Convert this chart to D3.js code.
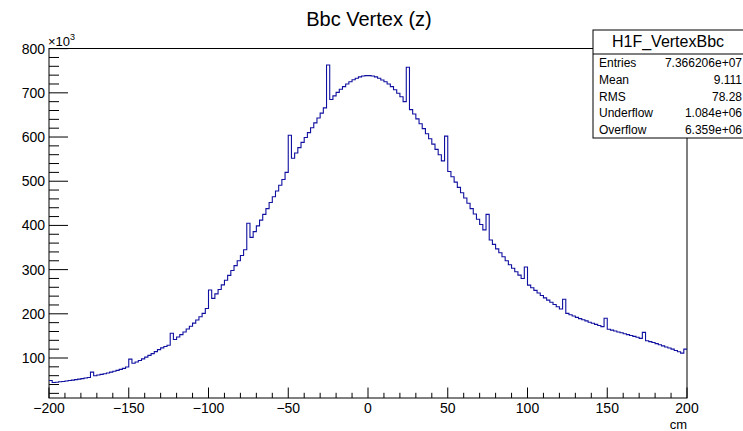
<!DOCTYPE html>
<html>
<head>
<meta charset="utf-8">
<script src="https://cdn.jsdelivr.net/npm/d3@7/dist/d3.min.js"></script>
<style>
  html, body { margin: 0; padding: 0; background: #fff; }
  svg { display: block; font-family: "Liberation Sans", Arial, Helvetica, sans-serif; }
</style>
</head>
<body>
<svg id="chart" width="743" height="431"></svg>
<script>
// ---- data (counts in thousands, 200 bins of 2 cm from -200 to 200) ----
const binLow = -200;
const binWidth = 2;
const counts = [
  49, 44.5, 45.3, 46.2, 47.0, 48.0, 49.0, 50.0, 51.1, 52.2,
  53.4, 54.6, 56, 68, 60, 61.5, 63, 64.5, 66.2, 68,
  70, 72, 74.2, 76.5, 79.5, 97.5, 88, 91, 94.5, 98,
  102, 106, 110, 114.5, 119, 123, 126, 129, 156, 142,
  147.5, 153, 159, 165.5, 172, 179, 186, 193.5, 201, 212,
  254, 235, 245, 255, 265.5, 276, 287, 298, 309, 320,
  332, 345, 405, 373, 386, 399, 412, 425, 438, 452,
  465, 478, 491, 504, 520, 604, 552, 564, 576, 588,
  599, 610, 621, 632, 643, 654, 666, 763, 685, 693,
  701, 708, 714, 720, 725, 729.5, 733, 736, 738, 739,
  739, 738, 736, 733, 729, 725, 720, 714, 707, 699,
  691, 680, 758, 662, 652, 641, 630, 619, 607.5, 596,
  584, 572, 560, 546, 602, 522, 510, 498, 486, 474,
  462, 450, 438, 426, 414, 402, 390, 425, 367, 357,
  347, 338, 329, 320, 311, 303, 295, 287.5, 280, 306,
  265, 259, 253, 247, 241.5, 236, 231, 226, 221, 216,
  211, 233, 201, 198, 195, 192, 189, 186.5, 184, 181,
  178.5, 176, 173.5, 171, 190, 165, 163, 161, 159, 157,
  155, 153, 151, 149, 147, 144.5, 158, 139, 137, 135,
  132.5, 130, 127.5, 125, 122.5, 120, 117, 114, 111, 120
];
const xTicks = [-200, -150, -100, -50, 0, 50, 100, 150, 200];
const yTicks = [100, 200, 300, 400, 500, 600, 700, 800];
const title = "Bbc Vertex (z)";
const xTitle = "cm";
const statsTitle = "H1F_VertexBbc";
const statsLabels = ["Entries", "Mean", "RMS", "Underflow", "Overflow"];
const statsValues = ["7.366206e+07", "9.111", "78.28", "1.084e+06", "6.359e+06"];

// ---- layout ----
const svg = d3.select("#chart");
const L = 49, R = 687, T = 48.5, B = 398;
const x = d3.scaleLinear().domain([-200, 200]).range([L, R]);
const y = d3.scaleLinear().domain([9.5, 800.3]).range([B, T]);

// frame
svg.append("rect").attr("x", L).attr("y", T).attr("width", R - L).attr("height", B - T)
  .attr("fill", "none").attr("stroke", "#000").attr("stroke-width", 1);

// histogram step line
const pts = counts.map((c, i) => [binLow + i * binWidth, c]);
pts.push([binLow + counts.length * binWidth, counts[counts.length - 1]]);
const line = d3.line().x(d => x(d[0])).y(d => y(d[1])).curve(d3.curveStepAfter);
svg.append("path").attr("d", line(pts)).attr("fill", "none")
  .attr("stroke", "#1010a0").attr("stroke-width", 1.1);

// x axis ticks (inside, pointing up)
const gx = svg.append("g");
const xMinor = d3.range(-200, 201, 10);
gx.selectAll("line.minor").data(xMinor).enter().append("line")
  .attr("x1", d => x(d)).attr("x2", d => x(d))
  .attr("y1", B).attr("y2", d => B - (d % 50 === 0 ? 10.5 : 5.2))
  .attr("stroke", "#000").attr("stroke-width", 1);
gx.selectAll("text").data(xTicks).enter().append("text")
  .attr("x", d => x(d)).attr("y", 413).attr("text-anchor", "middle")
  .attr("font-size", 14).text(d => d3.format("")(d));
svg.append("text").attr("x", R).attr("y", 429).attr("text-anchor", "end")
  .attr("font-size", 13).text(xTitle);

// y axis ticks (inside, pointing right)
const gy = svg.append("g");
const yMinor = d3.range(20, 801, 20);
gy.selectAll("line").data(yMinor).enter().append("line")
  .attr("x1", L).attr("x2", d => L + (d % 100 === 0 ? 19 : 10))
  .attr("y1", d => y(d)).attr("y2", d => y(d))
  .attr("stroke", "#000").attr("stroke-width", 1);
gy.selectAll("text").data(yTicks).enter().append("text")
  .attr("x", 45).attr("y", d => y(d) + 5).attr("text-anchor", "end")
  .attr("font-size", 14).text(d => d);
const mult = svg.append("text").attr("x", 48).attr("y", 46).attr("font-size", 13);
mult.append("tspan").text("\u00d710");
mult.append("tspan").attr("dy", -6).attr("font-size", 9).text("3");

// title
svg.append("text").attr("x", 369).attr("y", 26).attr("text-anchor", "middle")
  .attr("font-size", 20).text(title);

// stats box
const sbX = 593, sbY = 30, sbW = 160, sbH = 108, sbTitleH = 24;
svg.append("rect").attr("x", sbX).attr("y", sbY).attr("width", sbW).attr("height", sbH)
  .attr("fill", "#fff").attr("stroke", "#000").attr("stroke-width", 1);
svg.append("line").attr("x1", sbX).attr("x2", sbX + sbW)
  .attr("y1", sbY + sbTitleH).attr("y2", sbY + sbTitleH).attr("stroke", "#000");
svg.append("text").attr("x", 668).attr("y", sbY + 17).attr("text-anchor", "middle")
  .attr("font-size", 16).text(statsTitle);
const rowH = (sbH - sbTitleH) / statsLabels.length;
statsLabels.forEach((lab, i) => {
  const cy = sbY + sbTitleH + rowH * (i + 0.5) + 4.5;
  svg.append("text").attr("x", 599).attr("y", cy).attr("font-size", 12).text(lab);
  svg.append("text").attr("x", 742).attr("y", cy).attr("text-anchor", "end")
    .attr("font-size", 12).text(statsValues[i]);
});
</script>
</body>
</html>
